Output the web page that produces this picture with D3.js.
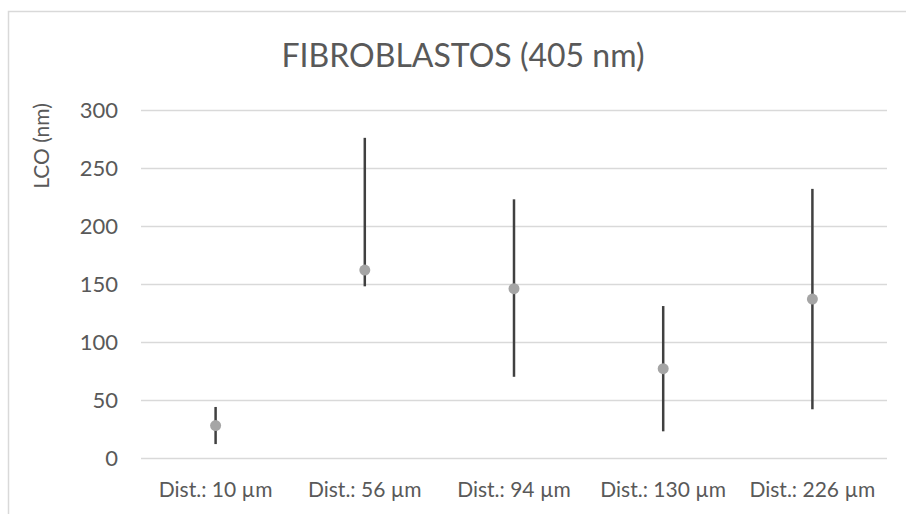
<!DOCTYPE html>
<html>
<head>
<meta charset="utf-8">
<script src="https://cdn.jsdelivr.net/npm/d3@7"></script>
<style>
    body { margin: 0; background: #fff; }
    svg text { font-family: Lato, "Open Sans", sans-serif; }
</style>
</head>
<body>
<div id="chart"></div>
<script>
// Chart data
const categories = ["Dist.: 10 µm", "Dist.: 56 µm", "Dist.: 94 µm", "Dist.: 130 µm", "Dist.: 226 µm"];
const meanValues = [28, 162, 146, 77, 137];
const lowValues = [12, 148, 70, 23, 42];
const highValues = [44, 276, 223, 131, 232];
const yTicks = [0, 50, 100, 150, 200, 250, 300];

// Constants for size and margins
const width = 906;
const height = 514;
const margin = { top: 110, right: 19, bottom: 56, left: 141 };
const plotWidth = width - margin.left - margin.right;
const plotHeight = height - margin.top - margin.bottom;

const textColor = "#595959";

const svg = d3.select("#chart").append("svg")
    .attr("width", width)
    .attr("height", height);

// Chart area border (runs off the bottom and right edge)
svg.append("path")
    .attr("d", `M8.5,${height}V11.5H${width}`)
    .attr("fill", "none")
    .attr("stroke", "#d9d9d9")
    .attr("stroke-width", 1.5);

svg.append("text")
    .attr("x", 463)
    .attr("y", 67)
    .attr("text-anchor", "middle")
    .attr("fill", textColor)
    .attr("font-size", 32)
    .text("FIBROBLASTOS (405 nm)");

const g = svg.append("g")
    .attr("transform", `translate(${margin.left}, ${margin.top})`);

const x = d3.scaleBand()
    .domain(categories)
    .range([0, plotWidth]);

const y = d3.scaleLinear()
    .domain([0, 300])
    .range([plotHeight, 0]);

// Y axis with gridlines
const yAxis = d3.axisLeft(y).tickValues(yTicks).tickSize(0).tickPadding(23);
g.append("g")
    .call(yAxis)
    .attr("font-size", 22)
    .call(g => g.select(".domain").remove())
    .call(g => g.selectAll(".tick text").attr("fill", textColor))
    .call(g => g.selectAll(".tick line")
        .clone()
        .attr("stroke", "#d9d9d9")
        .attr("stroke-width", 1.5)
        .attr("x1", 0)
        .attr("x2", plotWidth));

// X axis labels
const xAxis = d3.axisBottom(x).tickSize(0).tickPadding(24);
g.append("g")
    .attr("transform", `translate(0, ${plotHeight})`)
    .call(xAxis)
    .attr("font-size", 21)
    .call(g => g.select(".domain").remove())
    .call(g => g.selectAll(".tick text").attr("fill", textColor));

// Y axis title
svg.append("text")
    .attr("transform", "translate(49, 146) rotate(-90)")
    .attr("text-anchor", "middle")
    .attr("fill", textColor)
    .attr("font-size", 21)
    .text("LCO (nm)");

// Range lines
const cx = d => x(d) + x.bandwidth() / 2;

g.append("g").selectAll("line")
    .data(categories)
    .join("line")
    .attr("x1", cx)
    .attr("x2", cx)
    .attr("y1", (d, i) => y(lowValues[i]))
    .attr("y2", (d, i) => y(highValues[i]))
    .attr("stroke", "#404040")
    .attr("stroke-width", 2.5);

// Mean markers
g.append("g").selectAll("circle")
    .data(categories)
    .join("circle")
    .attr("cx", cx)
    .attr("cy", (d, i) => y(meanValues[i]))
    .attr("r", 5.5)
    .attr("fill", "#a5a5a5");
</script>
</body>
</html>
